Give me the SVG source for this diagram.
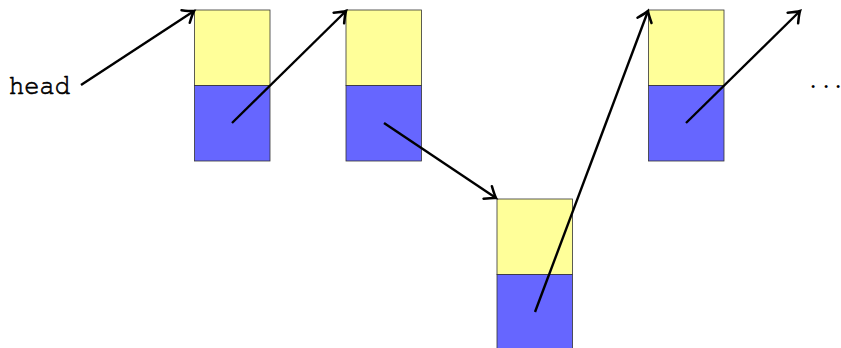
<svg xmlns="http://www.w3.org/2000/svg" width="841" height="348" viewBox="0 0 841 348">
<style>
.y{fill:#ffff99;stroke:#333;stroke-width:0.8}
.b{fill:#6666ff;stroke:#333;stroke-width:0.8}
.c{stroke:#000;stroke-width:2.4;fill:none;marker-end:url(#ah)}
</style>
<defs>
<marker id="ah" markerUnits="userSpaceOnUse" markerWidth="20" markerHeight="20" viewBox="-12 -8 14 16" refX="0" refY="0" orient="auto">
<path d="M-8,-6 Q-2,-1 0,0 Q-2,1 -8,6" fill="none" stroke="#000" stroke-width="2" stroke-linecap="round"/>
</marker>
</defs>
<rect width="841" height="348" fill="#fff"/>
<g id="head"><text x="9" y="94" style="font-family:'Nimbus Mono PS','Courier 10 Pitch','FreeMono',monospace;font-size:28px;stroke:#000;stroke-width:0.7" textLength="61" lengthAdjust="spacingAndGlyphs">head</text></g>
<g id="n1"><rect class="y" x="194.5" y="10" width="75.5" height="75.5"/><rect class="b" x="194.5" y="85.5" width="75.5" height="75.5"/></g>
<g id="n2"><rect class="y" x="346" y="10" width="75.5" height="75.5"/><rect class="b" x="346" y="85.5" width="75.5" height="75.5"/></g>
<g id="n3"><rect class="y" x="497" y="199" width="75.5" height="75.5"/><rect class="b" x="497" y="274.5" width="75.5" height="75.5"/></g>
<g id="n4"><rect class="y" x="648.5" y="10" width="75.5" height="75.5"/><rect class="b" x="648.5" y="85.5" width="75.5" height="75.5"/></g>
<g id="dots"><text x="810 823 835" y="88" style="font-family:'Liberation Serif',serif;font-size:25px">...</text></g>
<g id="connectors">
<path class="c" d="M81,85 L194,11"/>
<path class="c" d="M232,123 L346,11"/>
<path class="c" d="M384,123 L496,198"/>
<path class="c" d="M535,312 L648,11"/>
<path class="c" d="M686,123 L800,11"/>
</g>
</svg>
